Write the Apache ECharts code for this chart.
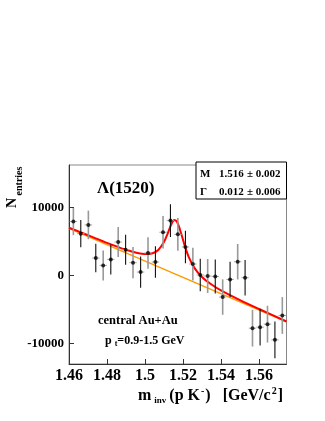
<!DOCTYPE html>
<html>
<head>
<meta charset="utf-8">
<script src="https://cdn.jsdelivr.net/npm/echarts@6/dist/echarts.min.js"></script>
<style>
  html, body { margin: 0; padding: 0; background: #fff; }
  #chart { width: 325px; height: 421px; }
</style>
</head>
<body>
<div id="chart"></div>
<script>
// invariant-mass bins (bin centres) and counts
const massBins = [1.4623, 1.4662, 1.4702, 1.4741, 1.4780, 1.4820, 1.4859, 1.4898, 1.4937, 1.4977,
  1.5016, 1.5055, 1.5095, 1.5134, 1.5173, 1.5213, 1.5252, 1.5291, 1.5330, 1.5370,
  1.5409, 1.5448, 1.5488, 1.5527, 1.5566, 1.5606, 1.5645, 1.5684, 1.5723]
const entries = [7900, 6130, 7410, 2550, 1470, 2350, 4900, 3780, 1870, 490,
  3290, 1960, 6330, 8040, 6030, 4170, 1670, 60, -90, -150,
  -3180, -590, 2010, -340, -7740, -7590, -7150, -9460, -5880]
const entryErrors = [2000, 2000, 2100, 2100, 2200, 2200, 2200, 2200, 2300, 2300,
  2300, 2300, 2400, 2400, 2400, 2400, 2400, 2400, 2500, 2500,
  2600, 2600, 2600, 2600, 2700, 2700, 2700, 2700, 2700]
const halfBin = 0.00196

// fitted curves
const bgX = [1.46, 1.5745]
const bgY = [6900, -6820]
const fitX = [1.460, 1.470, 1.480, 1.490, 1.496, 1.500, 1.504, 1.507, 1.510, 1.512, 1.514, 1.5155,
  1.517, 1.519, 1.521, 1.523, 1.526, 1.530, 1.535, 1.540, 1.550, 1.560, 1.5745]
const fitY = [7000, 5900, 4780, 3760, 3290, 3130, 3250, 3740, 4900, 6180, 7580, 8130,
  7790, 6190, 4290, 2730, 1110, -230, -1340, -2200, -3630, -4930, -6760]

const xTicks = [1.46, 1.48, 1.5, 1.52, 1.54, 1.56]
const yTicks = [-10000, 0, 10000]

const serif = 'Liberation Serif'
const chart = echarts.init(document.getElementById('chart'))

const option = {
  animation: false,
  grid: {
    left: 69, right: 38.5, top: 165, bottom: 57,
    show: true, borderColor: '#888', borderWidth: 1,
    containLabel: false, outerBoundsMode: 'none'
  },
  xAxis: {
    type: 'value', min: 1.46, max: 1.5745,
    axisLine: { onZero: false, lineStyle: { color: '#333' } },
    axisTick: { inside: true, length: 5, customValues: xTicks, lineStyle: { color: '#333' } },
    axisLabel: {
      customValues: xTicks, margin: 4,
      formatter: v => String(+v.toFixed(2)),
      fontFamily: serif, fontWeight: 'bold', fontSize: 16, color: '#000'
    },
    splitLine: { show: false }
  },
  yAxis: {
    type: 'value', min: -13000, max: 16200,
    axisLine: { show: true, onZero: false, lineStyle: { color: '#333' } },
    axisTick: { show: true, inside: true, length: 5, customValues: yTicks, lineStyle: { color: '#333' } },
    axisLabel: {
      customValues: yTicks, margin: 5,
      formatter: v => String(Math.round(v)),
      fontFamily: serif, fontWeight: 'bold', fontSize: 13, color: '#000'
    },
    splitLine: { show: false }
  },
  series: [
    {
      type: 'line', z: 2, symbol: 'none',
      data: bgX.map((x, i) => [x, bgY[i]]),
      lineStyle: { color: '#ff9900', width: 1.5 }
    },
    {
      type: 'line', z: 3, symbol: 'none', smooth: 0.3,
      data: fitX.map((x, i) => [x, fitY[i]]),
      lineStyle: { color: '#ff0000', width: 2 }
    },
    {
      type: 'custom', z: 4,
      data: massBins.map((x, i) => [x, entries[i], entryErrors[i]]),
      renderItem: (params, api) => {
        const x = api.value(0), y = api.value(1), e = api.value(2)
        const top = api.coord([x, y + e])
        const bot = api.coord([x, y - e])
        const l = api.coord([x - halfBin, y])
        const r = api.coord([x + halfBin, y])
        const odd = params.dataIndex % 2 === 1
        return {
          type: 'group',
          children: [
            { type: 'line', shape: { x1: l[0], y1: l[1], x2: r[0], y2: r[1] },
              style: { stroke: '#aaa', lineWidth: 1 } },
            { type: 'line', shape: { x1: top[0], y1: top[1], x2: bot[0], y2: bot[1] },
              style: { stroke: odd ? '#111' : '#999', lineWidth: odd ? 1.1 : 1.6 } }
          ]
        }
      }
    },
    {
      type: 'scatter', z: 5, symbol: 'circle', symbolSize: 4,
      data: massBins.map((x, i) => [x, entries[i]]),
      itemStyle: { color: '#000' }
    }
  ],
  graphic: [
    // y title
    { type: 'text', x: 12, y: 203, rotation: Math.PI / 2,
      style: { text: 'N', font: 'bold 14px ' + serif, fill: '#000', align: 'center', verticalAlign: 'middle' } },
    { type: 'text', x: 19, y: 181, rotation: Math.PI / 2,
      style: { text: 'entries', font: 'bold 10px ' + serif, fill: '#000', align: 'center', verticalAlign: 'middle' } },
    // x title
    { type: 'text', left: 138, top: 386,
      style: {
        text: '{m|m}{sub|inv}{m|(p K}{sup|-}{m|)   [GeV/c}{sup|2}{m|]}',
        rich: {
          m: { fontFamily: serif, fontWeight: 'bold', fontSize: 16, fill: '#000' },
          sub: { fontFamily: serif, fontWeight: 'bold', fontSize: 9, fill: '#000', padding: [10, 3, 0, 3] },
          sup: { fontFamily: serif, fontWeight: 'bold', fontSize: 10, fill: '#000', padding: [0, 1, 10, 1] }
        }
      } },
    // title label
    { type: 'text', x: 97, y: 189,
      style: { text: 'Λ(1520)', font: 'bold 17px ' + serif, fill: '#000', verticalAlign: 'middle' } },
    // fit result box
    { type: 'rect', z: 10, shape: { x: 196, y: 162, width: 90.5, height: 37 },
      style: { fill: '#fff', stroke: '#000', lineWidth: 1 } },
    { type: 'text', z: 11, x: 200, y: 174,
      style: { text: 'M', font: 'bold 11px ' + serif, fill: '#000', verticalAlign: 'middle' } },
    { type: 'text', z: 11, x: 219, y: 174,
      style: { text: '1.516', font: 'bold 11px ' + serif, fill: '#000', verticalAlign: 'middle' } },
    { type: 'text', z: 11, x: 247, y: 174,
      style: { text: '± 0.002', font: 'bold 11px ' + serif, fill: '#000', verticalAlign: 'middle' } },
    { type: 'text', z: 11, x: 200, y: 192,
      style: { text: 'Γ', font: 'bold 11px ' + serif, fill: '#000', verticalAlign: 'middle' } },
    { type: 'text', z: 11, x: 219, y: 192,
      style: { text: '0.012', font: 'bold 11px ' + serif, fill: '#000', verticalAlign: 'middle' } },
    { type: 'text', z: 11, x: 247, y: 192,
      style: { text: '± 0.006', font: 'bold 11px ' + serif, fill: '#000', verticalAlign: 'middle' } },
    // annotations
    { type: 'text', x: 98, y: 321,
      style: { text: 'central Au+Au', font: 'bold 12.5px ' + serif, fill: '#000', verticalAlign: 'middle' } },
    { type: 'text', left: 105, top: 335,
      style: {
        text: '{a|p }{s|t}{a|=0.9-1.5 GeV}',
        rich: {
          a: { fontFamily: serif, fontWeight: 'bold', fontSize: 12, fill: '#000' },
          s: { fontFamily: serif, fontWeight: 'bold', fontSize: 8, fill: '#000', padding: [6, 0, 0, 0] }
        }
      } }
  ]
}

chart.setOption(option)
</script>
</body>
</html>
